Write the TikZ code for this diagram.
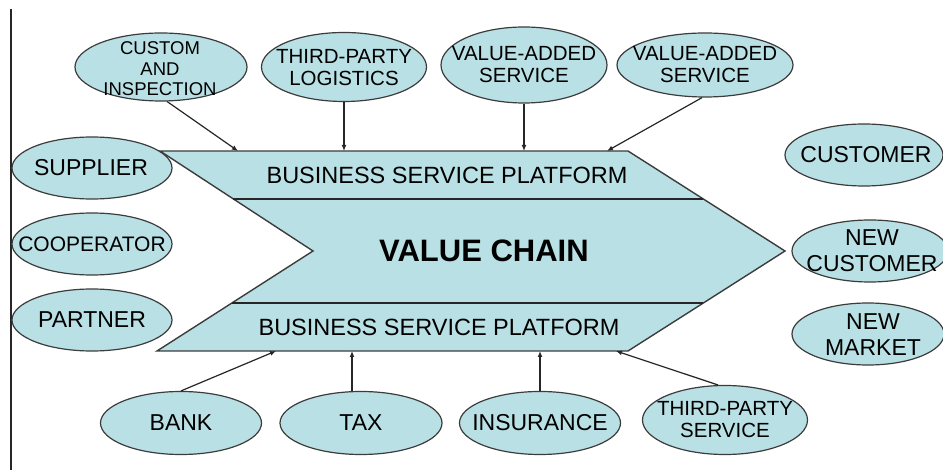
\documentclass[tikz,border=0pt]{standalone}
\usepackage{fontspec}
\setmainfont{Liberation Sans}
\usetikzlibrary{shapes.geometric,arrows.meta}
\definecolor{cfill}{RGB}{185,224,228}
\definecolor{cline}{RGB}{60,60,60}
\begin{document}
\begin{tikzpicture}[x=1pt,y=-1pt,
  ell/.style={ellipse,draw=cline,fill=cfill,line width=1.2pt,inner sep=0pt},
  txt/.style={inner sep=0pt,align=center,text=black,font=\fontsize{23}{26}\selectfont},
  mtxt/.style={txt,font=\fontsize{20.5}{22}\selectfont},
  stxt/.style={txt,font=\fontsize{18.5}{20.5}\selectfont},
  arr/.style={-{Latex[length=6pt,width=5pt]},line width=1.2pt,draw=black!85},
  divider/.style={draw=black!85,line width=1.1pt}
]
\useasboundingbox (0,0) rectangle (943,470);
\draw[line width=1.3pt,black!85] (11,9) coordinate (vTop) -- (11,470) coordinate (vBot);

% chevron
\path[fill=cfill,draw=cline,line width=1.4pt]
  (160,151) coordinate (cTL) -- (628,151) coordinate (cTR)
  -- (785,251) coordinate (cTip) -- (628,351) coordinate (cBR)
  -- (157,351) coordinate (cBL) -- (313,251) coordinate (cNotch) -- cycle;
\coordinate (d1L) at (233,199); \coordinate (d1R) at (703,199);
\coordinate (d2L) at (232,303); \coordinate (d2R) at (703,303);
\draw[divider] (d1L) -- (d1R);
\draw[divider] (d2L) -- (d2R);

\node[txt,font=\fontsize{23.5}{26}\selectfont] (bsp1) at (447,175) {BUSINESS SERVICE PLATFORM};
\node[txt,font=\fontsize{23.5}{26}\selectfont] (bsp2) at (439,327) {BUSINESS SERVICE PLATFORM};
\node[txt,font=\fontsize{31}{34}\bfseries] (vc) at (484,251) {VALUE CHAIN};

% arrow targets on the chevron
\coordinate (tCust) at (238,151);
\coordinate (tTpl) at (344,151);
\coordinate (tVas1) at (524,151);
\coordinate (tVas2) at (607,151);
\coordinate (tBank) at (276,351);
\coordinate (tTax) at (352,351);
\coordinate (tIns) at (540,351);
\coordinate (tTps) at (616,351);

% top ellipses
\node[ell,minimum width=172pt,minimum height=68pt] (cust) at (161,67) {};
\node[stxt] (custT) at (160,69) {CUSTOM\\AND\\INSPECTION};
\node[ell,minimum width=165pt,minimum height=69pt] (tpl) at (344,67) {};
\node[mtxt] (tplT) at (344,68) {THIRD-PARTY\\LOGISTICS};
\node[ell,minimum width=166pt,minimum height=76pt] (vas1) at (524,65) {};
\node[mtxt] (vas1T) at (524,65) {VALUE-ADDED\\SERVICE};
\node[ell,minimum width=176pt,minimum height=64pt] (vas2) at (705,65) {};
\node[mtxt] (vas2T) at (705,65) {VALUE-ADDED\\SERVICE};

% left ellipses
\node[ell,minimum width=160pt,minimum height=62pt] (sup) at (92,168) {};
\node[txt] (supT) at (91,168) {SUPPLIER};
\node[ell,minimum width=160pt,minimum height=62pt] (coop) at (92,244) {};
\node[txt,font=\fontsize{21}{24}\selectfont] (coopT) at (92,244) {COOPERATOR};
\node[ell,minimum width=160pt,minimum height=62pt] (part) at (92,320) {};
\node[txt] (partT) at (92,320) {PARTNER};

% right ellipses
\node[ell,minimum width=158pt,minimum height=62pt] (custm) at (864,155) {};
\node[txt] (custmT) at (866,155) {CUSTOMER};
\node[ell,minimum width=156pt,minimum height=62pt] (ncust) at (870,251) {};
\node[txt] (ncustT) at (872,251) {NEW\\CUSTOMER};
\node[ell,minimum width=152pt,minimum height=62pt] (nmkt) at (868,334) {};
\node[txt] (nmktT) at (873,335) {NEW\\MARKET};

% bottom ellipses
\node[ell,minimum width=161pt,minimum height=63pt] (bank) at (181,423) {};
\node[txt] (bankT) at (181,423) {BANK};
\node[ell,minimum width=162pt,minimum height=63pt] (tax) at (361,423) {};
\node[txt] (taxT) at (361,423) {TAX};
\node[ell,minimum width=161pt,minimum height=63pt] (ins) at (540,423) {};
\node[txt] (insT) at (540,423) {INSURANCE};
\node[ell,minimum width=165pt,minimum height=69pt] (tps) at (725,420) {};
\node[mtxt] (tpsT) at (725,420) {THIRD-PARTY\\SERVICE};

% connectors
\draw[arr] (cust.-80) -- (tCust);
\draw[arr] (tpl.south) -- (tTpl);
\draw[arr] (vas1.south) -- (tVas1);
\draw[arr] (vas2.-95) -- (tVas2);
\draw[arr] (bank.north) -- (tBank);
\draw[arr] (tTax |- tax.north) -- (tTax);
\draw[arr] (ins.north) -- (tIns);
\draw[arr] (tps.101.6) -- (tTps);
\end{tikzpicture}
\end{document}
